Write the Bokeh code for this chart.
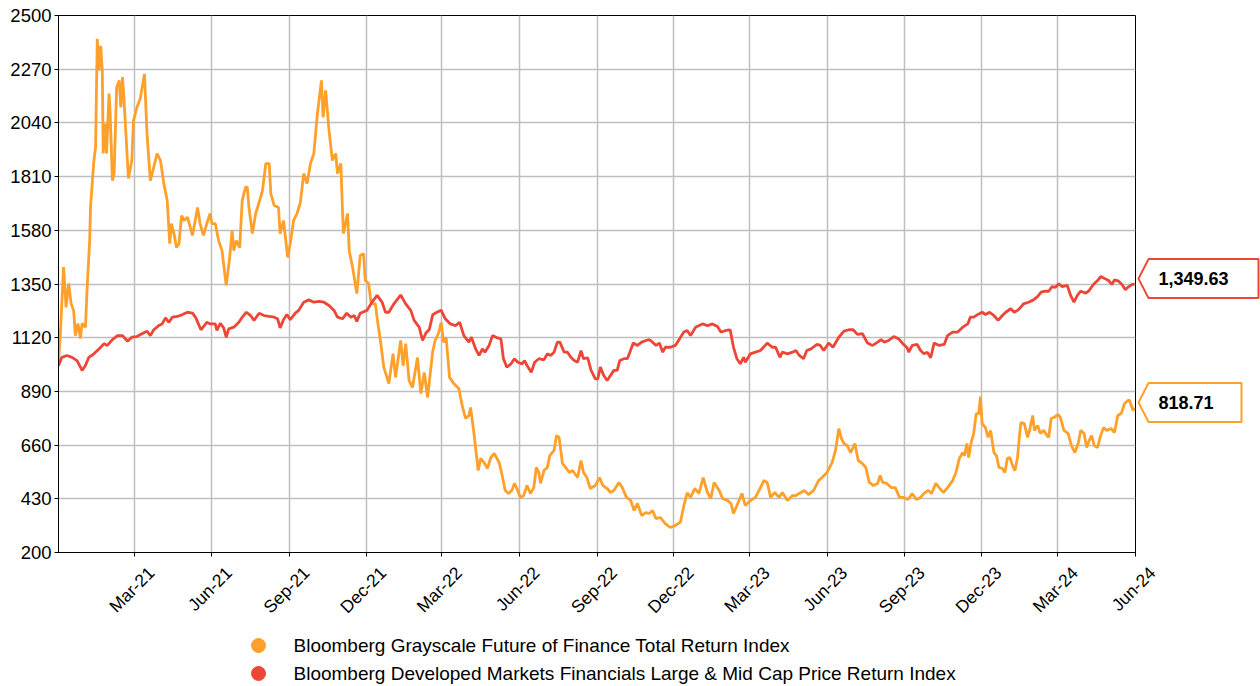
import math
import pandas as pd
from bokeh.plotting import figure
from bokeh.models import Range1d, FixedTicker, GridBox, CustomJSTickFormatter
from bokeh.core.properties import value
from bokeh.embed import file_html
from bokeh.resources import INLINE

# ---------------- data ----------------
series_names = [
    "Bloomberg Grayscale Future of Finance Total Return Index",
    "Bloomberg Developed Markets Financials Large & Mid Cap Price Return Index",
]
series_colors = ["#FFA02A", "#EE4636"]

gff_dates = [
    "2020-12-01", "2020-12-03", "2020-12-07", "2020-12-10", "2020-12-13", "2020-12-16", "2020-12-19", "2020-12-21",
    "2020-12-24", "2020-12-27", "2020-12-29", "2021-01-02", "2021-01-04", "2021-01-07", "2021-01-08", "2021-01-10",
    "2021-01-12", "2021-01-14", "2021-01-16", "2021-01-18", "2021-01-20", "2021-01-22", "2021-01-23", "2021-01-26",
    "2021-01-27", "2021-01-30", "2021-01-31", "2021-02-03", "2021-02-05", "2021-02-08", "2021-02-11", "2021-02-13",
    "2021-02-15", "2021-02-17", "2021-02-22", "2021-02-26", "2021-02-28", "2021-03-04", "2021-03-08", "2021-03-13",
    "2021-03-16", "2021-03-20", "2021-03-24", "2021-03-28", "2021-04-01", "2021-04-05", "2021-04-09", "2021-04-12",
    "2021-04-14", "2021-04-17", "2021-04-20", "2021-04-23", "2021-04-26", "2021-04-29", "2021-05-03", "2021-05-09",
    "2021-05-15", "2021-05-18", "2021-05-22", "2021-05-26", "2021-05-30", "2021-06-01", "2021-06-05", "2021-06-09",
    "2021-06-13", "2021-06-18", "2021-06-22", "2021-06-25", "2021-06-27", "2021-06-30", "2021-07-04", "2021-07-07",
    "2021-07-11", "2021-07-13", "2021-07-15", "2021-07-19", "2021-07-23", "2021-07-27", "2021-07-31", "2021-08-04",
    "2021-08-08", "2021-08-10", "2021-08-14", "2021-08-19", "2021-08-21", "2021-08-25", "2021-08-30", "2021-09-02",
    "2021-09-06", "2021-09-10", "2021-09-14", "2021-09-18", "2021-09-22", "2021-09-26", "2021-09-30", "2021-10-04",
    "2021-10-09", "2021-10-11", "2021-10-14", "2021-10-18", "2021-10-22", "2021-10-26", "2021-10-28", "2021-11-01",
    "2021-11-04", "2021-11-09", "2021-11-11", "2021-11-15", "2021-11-20", "2021-11-24", "2021-11-28", "2021-11-30",
    "2021-12-04", "2021-12-07", "2021-12-12", "2021-12-14", "2021-12-18", "2021-12-22", "2021-12-28", "2022-01-02",
    "2022-01-05", "2022-01-11", "2022-01-14", "2022-01-17", "2022-01-21", "2022-01-25", "2022-01-31", "2022-02-04",
    "2022-02-08", "2022-02-12", "2022-02-18", "2022-02-21", "2022-02-25", "2022-02-28", "2022-03-03", "2022-03-06",
    "2022-03-10", "2022-03-15", "2022-03-21", "2022-03-25", "2022-03-29", "2022-04-02", "2022-04-04", "2022-04-08",
    "2022-04-11", "2022-04-13", "2022-04-16", "2022-04-20", "2022-04-24", "2022-04-28", "2022-05-02", "2022-05-08",
    "2022-05-12", "2022-05-15", "2022-05-19", "2022-05-23", "2022-05-26", "2022-05-29", "2022-06-02", "2022-06-06",
    "2022-06-10", "2022-06-14", "2022-06-18", "2022-06-21", "2022-06-24", "2022-06-26", "2022-06-30", "2022-07-04",
    "2022-07-07", "2022-07-12", "2022-07-15", "2022-07-18", "2022-07-22", "2022-07-26", "2022-07-30", "2022-08-03",
    "2022-08-09", "2022-08-13", "2022-08-16", "2022-08-20", "2022-08-24", "2022-08-30", "2022-09-04", "2022-09-08",
    "2022-09-13", "2022-09-17", "2022-09-21", "2022-09-27", "2022-10-01", "2022-10-06", "2022-10-11", "2022-10-15",
    "2022-10-19", "2022-10-24", "2022-10-29", "2022-11-02", "2022-11-06", "2022-11-10", "2022-11-15", "2022-11-21",
    "2022-11-27", "2022-12-03", "2022-12-09", "2022-12-13", "2022-12-17", "2022-12-21", "2022-12-26", "2022-12-31",
    "2023-01-05", "2023-01-10", "2023-01-14", "2023-01-18", "2023-01-24", "2023-01-28", "2023-02-03", "2023-02-07",
    "2023-02-10", "2023-02-14", "2023-02-20", "2023-02-24", "2023-03-02", "2023-03-08", "2023-03-14", "2023-03-18",
    "2023-03-22", "2023-03-26", "2023-03-31", "2023-04-05", "2023-04-09", "2023-04-15", "2023-04-21", "2023-04-25",
    "2023-04-29", "2023-05-05", "2023-05-10", "2023-05-16", "2023-05-22", "2023-05-26", "2023-06-01", "2023-06-07",
    "2023-06-11", "2023-06-15", "2023-06-18", "2023-06-21", "2023-06-25", "2023-06-29", "2023-07-04", "2023-07-08",
    "2023-07-13", "2023-07-17", "2023-07-21", "2023-07-26", "2023-07-31", "2023-08-03", "2023-08-06", "2023-08-11",
    "2023-08-16", "2023-08-21", "2023-08-26", "2023-08-31", "2023-09-05", "2023-09-10", "2023-09-15", "2023-09-20",
    "2023-09-24", "2023-09-29", "2023-10-03", "2023-10-08", "2023-10-12", "2023-10-17", "2023-10-22", "2023-10-28",
    "2023-11-01", "2023-11-05", "2023-11-09", "2023-11-11", "2023-11-14", "2023-11-16", "2023-11-19", "2023-11-22",
    "2023-11-25", "2023-11-28", "2023-11-30", "2023-12-02", "2023-12-06", "2023-12-09", "2023-12-12", "2023-12-16",
    "2023-12-19", "2023-12-22", "2023-12-26", "2023-12-29", "2024-01-01", "2024-01-04", "2024-01-07", "2024-01-10",
    "2024-01-13", "2024-01-15", "2024-01-17", "2024-01-21", "2024-01-25", "2024-01-28", "2024-01-31", "2024-02-02",
    "2024-02-06", "2024-02-09", "2024-02-13", "2024-02-17", "2024-02-19", "2024-02-22", "2024-02-25", "2024-03-01",
    "2024-03-04", "2024-03-08", "2024-03-13", "2024-03-17", "2024-03-21", "2024-03-25", "2024-03-28", "2024-04-01",
    "2024-04-04", "2024-04-07", "2024-04-10", "2024-04-13", "2024-04-17", "2024-04-20", "2024-04-24", "2024-04-28",
    "2024-05-03", "2024-05-07", "2024-05-11", "2024-05-15", "2024-05-19", "2024-05-23", "2024-05-25", "2024-05-29",
    "2024-05-31",
]
gff_values = [
    1020, 1122, 1422, 1250, 1352, 1266, 1236, 1129,
    1181, 1117, 1181, 1164, 1336, 1536, 1679, 1780,
    1879, 1936, 2400, 2264, 2370, 2264, 1909, 2037,
    1909, 2166, 2106, 1793, 1823, 2193, 2222, 2106,
    2236, 2122, 1802, 1879, 2050, 2106, 2144, 2250,
    1995, 1793, 1850, 1909, 1879, 1780, 1708, 1523,
    1609, 1566, 1506, 1523, 1643, 1622, 1636, 1558,
    1678, 1609, 1558, 1609, 1652, 1609, 1609, 1536,
    1493, 1344, 1459, 1579, 1493, 1536, 1506, 1708,
    1765, 1765, 1678, 1566, 1652, 1699, 1750, 1866,
    1866, 1736, 1686, 1678, 1566, 1622, 1464, 1523,
    1622, 1652, 1699, 1823, 1780, 1866, 1909, 2072,
    2222, 2064, 2179, 2008, 1879, 1909, 1823, 1866,
    1566, 1652, 1493, 1421, 1309, 1472, 1480, 1365,
    1352, 1266, 1266, 1206, 1108, 994, 924, 1052,
    950, 1108, 1000, 1095, 937, 907, 1035, 881,
    971, 864, 1060, 1108, 1140, 1185, 1100, 1121,
    950, 924, 902, 830, 774, 787, 821, 710,
    615, 551, 603, 585, 560, 607, 624, 585,
    521, 466, 453, 466, 496, 474, 436, 444,
    487, 453, 478, 564, 543, 496, 551, 564,
    615, 637, 701, 693, 581, 564, 543, 551,
    521, 594, 543, 521, 474, 487, 521, 487,
    474, 457, 466, 500, 478, 436, 423, 380,
    410, 358, 371, 367, 380, 345, 350, 324,
    307, 316, 330, 400, 455, 436, 474, 453,
    521, 457, 431, 500, 466, 431, 423, 410,
    367, 401, 453, 401, 423, 436, 478, 508,
    500, 436, 457, 436, 457, 423, 444, 444,
    453, 466, 448, 466, 508, 521, 543, 585,
    637, 731, 688, 667, 658, 628, 667, 594,
    581, 564, 500, 487, 496, 530, 500, 496,
    478, 478, 436, 436, 427, 453, 427, 436,
    453, 466, 453, 496, 478, 457, 478, 508,
    543, 603, 628, 615, 667, 607, 671, 710,
    795, 795, 868, 752, 735, 693, 723, 628,
    615, 564, 560, 543, 603, 607, 573, 551,
    607, 688, 757, 752, 693, 735, 787, 723,
    744, 710, 723, 701, 693, 774, 778, 791,
    778, 723, 710, 658, 628, 667, 723, 710,
    650, 680, 701, 658, 650, 693, 735, 723,
    731, 714, 787, 795, 838, 851, 851, 808,
    818.71,
]

dmf_dates = [
    "2020-12-01", "2020-12-05", "2020-12-11", "2020-12-17", "2020-12-23", "2020-12-29", "2021-01-02", "2021-01-06",
    "2021-01-12", "2021-01-18", "2021-01-24", "2021-01-28", "2021-02-03", "2021-02-09", "2021-02-15", "2021-02-21",
    "2021-02-26", "2021-03-04", "2021-03-10", "2021-03-16", "2021-03-20", "2021-03-24", "2021-03-30", "2021-04-03",
    "2021-04-07", "2021-04-11", "2021-04-15", "2021-04-21", "2021-04-27", "2021-05-03", "2021-05-09", "2021-05-13",
    "2021-05-19", "2021-05-23", "2021-05-26", "2021-05-30", "2021-06-05", "2021-06-07", "2021-06-11", "2021-06-15",
    "2021-06-18", "2021-06-21", "2021-06-27", "2021-07-03", "2021-07-07", "2021-07-12", "2021-07-17", "2021-07-21",
    "2021-07-27", "2021-08-02", "2021-08-08", "2021-08-14", "2021-08-18", "2021-08-21", "2021-08-25", "2021-08-29",
    "2021-09-02", "2021-09-08", "2021-09-12", "2021-09-18", "2021-09-24", "2021-09-30", "2021-10-06", "2021-10-12",
    "2021-10-18", "2021-10-24", "2021-10-28", "2021-11-03", "2021-11-08", "2021-11-13", "2021-11-17", "2021-11-20",
    "2021-11-24", "2021-12-02", "2021-12-08", "2021-12-14", "2021-12-20", "2021-12-24", "2021-12-28", "2022-01-03",
    "2022-01-11", "2022-01-17", "2022-01-23", "2022-01-27", "2022-02-02", "2022-02-06", "2022-02-10", "2022-02-14",
    "2022-02-18", "2022-02-23", "2022-02-28", "2022-03-05", "2022-03-11", "2022-03-17", "2022-03-22", "2022-03-27",
    "2022-04-02", "2022-04-05", "2022-04-10", "2022-04-14", "2022-04-18", "2022-04-21", "2022-04-26", "2022-04-30",
    "2022-05-06", "2022-05-10", "2022-05-13", "2022-05-17", "2022-05-22", "2022-05-26", "2022-05-30", "2022-06-04",
    "2022-06-07", "2022-06-10", "2022-06-15", "2022-06-19", "2022-06-24", "2022-06-30", "2022-07-04", "2022-07-08",
    "2022-07-12", "2022-07-16", "2022-07-19", "2022-07-24", "2022-07-28", "2022-08-01", "2022-08-05", "2022-08-09",
    "2022-08-13", "2022-08-16", "2022-08-21", "2022-08-25", "2022-08-30", "2022-09-02", "2022-09-05", "2022-09-09",
    "2022-09-13", "2022-09-17", "2022-09-21", "2022-09-25", "2022-09-28", "2022-10-03", "2022-10-07", "2022-10-10",
    "2022-10-14", "2022-10-19", "2022-10-24", "2022-10-29", "2022-11-02", "2022-11-06", "2022-11-10", "2022-11-14",
    "2022-11-18", "2022-11-21", "2022-11-27", "2022-12-03", "2022-12-08", "2022-12-13", "2022-12-17", "2022-12-21",
    "2022-12-27", "2023-01-04", "2023-01-10", "2023-01-16", "2023-01-22", "2023-01-26", "2023-02-01", "2023-02-06",
    "2023-02-10", "2023-02-14", "2023-02-18", "2023-02-22", "2023-02-24", "2023-03-02", "2023-03-08", "2023-03-14",
    "2023-03-22", "2023-03-28", "2023-04-01", "2023-04-06", "2023-04-09", "2023-04-15", "2023-04-21", "2023-04-25",
    "2023-04-29", "2023-05-04", "2023-05-08", "2023-05-13", "2023-05-20", "2023-05-24", "2023-05-28", "2023-06-03",
    "2023-06-08", "2023-06-15", "2023-06-21", "2023-06-27", "2023-07-02", "2023-07-07", "2023-07-13", "2023-07-19",
    "2023-07-25", "2023-07-31", "2023-08-04", "2023-08-08", "2023-08-13", "2023-08-19", "2023-08-25", "2023-08-30",
    "2023-09-04", "2023-09-06", "2023-09-10", "2023-09-16", "2023-09-20", "2023-09-24", "2023-09-28", "2023-10-02",
    "2023-10-06", "2023-10-12", "2023-10-18", "2023-10-22", "2023-10-28", "2023-11-03", "2023-11-09", "2023-11-15",
    "2023-11-18", "2023-11-22", "2023-11-28", "2023-12-02", "2023-12-06", "2023-12-11", "2023-12-16", "2023-12-21",
    "2023-12-26", "2023-12-30", "2024-01-05", "2024-01-09", "2024-01-13", "2024-01-17", "2024-01-20", "2024-01-26",
    "2024-02-01", "2024-02-06", "2024-02-10", "2024-02-15", "2024-02-19", "2024-02-23", "2024-02-27", "2024-03-02",
    "2024-03-06", "2024-03-12", "2024-03-16", "2024-03-20", "2024-03-24", "2024-03-28", "2024-04-03", "2024-04-07",
    "2024-04-12", "2024-04-17", "2024-04-21", "2024-04-26", "2024-04-30", "2024-05-04", "2024-05-07", "2024-05-12",
    "2024-05-16", "2024-05-20", "2024-05-24", "2024-05-28", "2024-05-31",
]
dmf_values = [
    1000, 1036, 1044, 1036, 1022, 980, 1001, 1036,
    1051, 1072, 1094, 1087, 1112, 1129, 1129, 1105,
    1122, 1125, 1137, 1148, 1129, 1154, 1172, 1179,
    1205, 1186, 1208, 1211, 1219, 1229, 1225, 1205,
    1154, 1172, 1186, 1179, 1179, 1151, 1182, 1162,
    1122, 1158, 1165, 1186, 1208, 1229, 1215, 1194,
    1225, 1215, 1211, 1208, 1201, 1162, 1197, 1219,
    1197, 1225, 1237, 1272, 1282, 1272, 1276, 1272,
    1258, 1237, 1208, 1201, 1225, 1208, 1215, 1190,
    1225, 1237, 1272, 1301, 1272, 1229, 1229, 1265,
    1303, 1265, 1237, 1194, 1165, 1108, 1140, 1155,
    1218, 1229, 1238, 1201, 1179, 1172, 1186, 1129,
    1101, 1122, 1072, 1044, 1072, 1058, 1087, 1129,
    1119, 1115, 1030, 994, 1008, 1030, 1015, 1008,
    1022, 1001, 972, 1015, 1030, 1025, 1051, 1044,
    1058, 1101, 1101, 1058, 1058, 1036, 1022, 1015,
    1065, 1030, 1034, 980, 944, 944, 994, 958,
    937, 958, 980, 980, 1022, 1030, 1030, 1058,
    1097, 1087, 1101, 1108, 1112, 1101, 1087, 1097,
    1058, 1079, 1079, 1087, 1115, 1144, 1151, 1129,
    1165, 1179, 1172, 1179, 1168, 1144, 1151, 1154,
    1079, 1030, 1008, 1036, 1015, 1051, 1058, 1065,
    1097, 1079, 1079, 1036, 1058, 1051, 1058, 1065,
    1044, 1030, 1065, 1072, 1091, 1087, 1065, 1097,
    1079, 1122, 1148, 1154, 1154, 1134, 1137, 1097,
    1087, 1101, 1112, 1101, 1108, 1125, 1115, 1094,
    1077, 1058, 1087, 1091, 1065, 1051, 1058, 1034,
    1097, 1087, 1091, 1129, 1144, 1144, 1165, 1179,
    1208, 1208, 1222, 1229, 1219, 1229, 1215, 1194,
    1215, 1229, 1244, 1229, 1237, 1251, 1265, 1272,
    1282, 1297, 1315, 1319, 1319, 1339, 1336, 1351,
    1339, 1344, 1301, 1272, 1301, 1319, 1311, 1322,
    1348, 1365, 1382, 1372, 1365, 1348, 1368, 1362,
    1348, 1325, 1339, 1348, 1349.63,
]

y_ticks = [200, 430, 660, 890, 1120, 1350, 1580, 1810, 2040, 2270, 2500]
x_tick_dates = ["2021-03-01", "2021-06-01", "2021-09-01", "2021-12-01", "2022-03-01", "2022-06-01",
                "2022-09-01", "2022-12-01", "2023-03-01", "2023-06-01", "2023-09-01", "2023-12-01",
                "2024-03-01", "2024-06-01"]
x_tick_labels = ["Mar-21", "Jun-21", "Sep-21", "Dec-21", "Mar-22", "Jun-22", "Sep-22", "Dec-22",
                 "Mar-23", "Jun-23", "Sep-23", "Dec-23", "Mar-24", "Jun-24"]
x_start, x_end = "2020-12-01", "2024-06-01"
last_labels = ["818.71", "1,349.63"]

# ---------------- layout constants (pixels) ----------------
FONT = "Liberation Sans"
W, H = 1260, 686
LEFT, TOP, FRAME_W, FRAME_H = 58, 15, 1077, 537
RIGHT = W - LEFT - FRAME_W
BOTTOM = H - TOP - FRAME_H

t0 = pd.Timestamp(x_start).timestamp() * 1000
t1 = pd.Timestamp(x_end).timestamp() * 1000
tick_ms = [pd.Timestamp(d).timestamp() * 1000 for d in x_tick_dates]

# ---------------- main chart ----------------
p = figure(frame_width=FRAME_W, frame_height=FRAME_H, x_axis_type="datetime",
           x_range=Range1d(t0, t1), y_range=Range1d(y_ticks[0], y_ticks[-1]),
           output_backend="svg", toolbar_location=None,
           min_border_left=LEFT, min_border_right=RIGHT, min_border_top=TOP, min_border_bottom=BOTTOM,
           background_fill_color="white", border_fill_color="white")
p.outline_line_color = "black"
p.outline_line_width = 1

p.yaxis.ticker = FixedTicker(ticks=y_ticks)
p.yaxis.axis_line_color = "black"
p.yaxis.major_tick_line_color = "black"
p.yaxis.minor_tick_line_color = None
p.yaxis.major_tick_in = 0
p.yaxis.major_tick_out = 4
p.yaxis.major_label_standoff = 3
p.yaxis.major_label_text_font = FONT
p.yaxis.major_label_text_font_size = "18.5px"
p.yaxis.major_label_text_color = "black"

# x axis: line + tick marks (the rotated date labels are set in the overlay below)
p.xaxis.ticker = FixedTicker(ticks=tick_ms)
p.xaxis.formatter = CustomJSTickFormatter(code="return ''")
p.xaxis.axis_line_color = "black"
p.xaxis.major_tick_line_color = "black"
p.xaxis.minor_tick_line_color = None
p.xaxis.major_tick_in = 0
p.xaxis.major_tick_out = 4
p.xaxis.major_label_standoff = 0

for g in (p.xgrid, p.ygrid):
    g.grid_line_color = "#bfbfbf"
    g.grid_line_width = 1.5

series = [(gff_dates, gff_values), (dmf_dates, dmf_values)]
for (dates, vals), color in zip(series, series_colors):
    p.line(pd.to_datetime(dates), vals, line_color=color, line_width=2.8)

# ---------------- overlay (whole canvas): date labels, legend, last-value callouts ----------------
ms_per_px = (t1 - t0) / FRAME_W
units_per_px = (y_ticks[-1] - y_ticks[0]) / FRAME_H
LAB_DX, LAB_DY = 17, 17.5      # rotated label anchor offset from its tick

ov = figure(frame_width=W, frame_height=H, x_range=Range1d(0, W), y_range=Range1d(H, 0),
            output_backend="svg", toolbar_location=None,
            min_border_left=0, min_border_right=0, min_border_top=0, min_border_bottom=0,
            x_axis_location=None, y_axis_location=None,
            background_fill_alpha=0, border_fill_alpha=0, outline_line_color=None)
ov.frame_align = False
ov.xgrid.visible = False
ov.ygrid.visible = False
ov.extra_x_ranges = {"dates": Range1d(t0 - (LEFT + LAB_DX) * ms_per_px, t0 + (W - LEFT - LAB_DX) * ms_per_px)}
ov.extra_y_ranges = {"val": Range1d(y_ticks[0] - BOTTOM * units_per_px, y_ticks[-1] + TOP * units_per_px)}

# rotated date labels
ov.text(tick_ms, [TOP + FRAME_H + LAB_DY] * len(tick_ms), text=x_tick_labels, x_range_name="dates",
        angle=math.pi / 4, text_align="right", text_baseline="middle",
        text_font=value(FONT), text_font_size="17.5px", text_color="black")

# legend (dots + names)
LEG_DOT_X, LEG_TEXT_X, LEG_Y0, LEG_DY = 258, 293, 645, 28
leg_y = [LEG_Y0 + i * LEG_DY for i in range(len(series_names))]
ov.scatter([LEG_DOT_X] * len(series_names), leg_y, marker="circle", size=14,
           fill_color=series_colors, line_color=series_colors)
ov.text([LEG_TEXT_X] * len(series_names), leg_y, text=series_names,
        text_font=value(FONT), text_font_size="19px", text_baseline="middle", text_align="left",
        text_color="black")

# callouts
TIP_X = LEFT + FRAME_W + 3
BOX_X = TIP_X + 10
box_widths = [93, 110]
half_h = 19.5 * units_per_px
lift = 5.5 * units_per_px
for (dates, vals), color, text, bw in zip(series, series_colors, last_labels, box_widths):
    yc = vals[-1] + lift
    ov.patch([TIP_X, BOX_X, BOX_X + bw, BOX_X + bw, BOX_X],
             [yc, yc + half_h, yc + half_h, yc - half_h, yc - half_h],
             y_range_name="val", fill_color="white", line_color=color, line_width=2)
    ov.text([BOX_X + 10], [yc], text=[text], y_range_name="val",
            text_font=value(FONT), text_font_size="18px", text_font_style=value("bold"),
            text_baseline="middle", text_align="left", text_color="black")

layout = GridBox(children=[(p, 0, 0), (ov, 0, 0)])
open("out.html", "w").write(file_html(layout, INLINE))
